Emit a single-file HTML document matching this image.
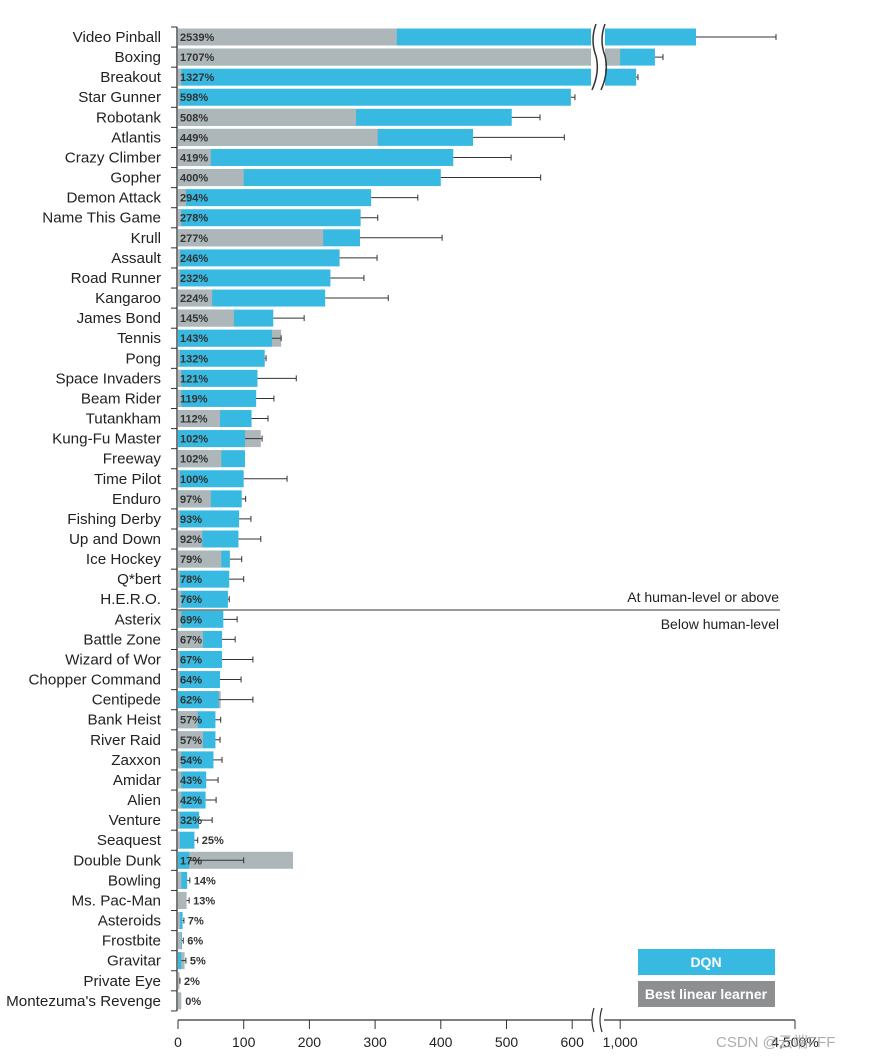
<!DOCTYPE html>
<html><head><meta charset="utf-8"><style>
body{margin:0;background:#fff;width:873px;height:1059px;overflow:hidden}
text{font-family:"Liberation Sans","Noto Sans CJK SC",sans-serif}
</style></head><body>
<svg id="chart" width="873" height="1059" xmlns="http://www.w3.org/2000/svg"></svg>
<script>
const games=["Video Pinball","Boxing","Breakout","Star Gunner","Robotank","Atlantis","Crazy Climber","Gopher","Demon Attack","Name This Game","Krull","Assault","Road Runner","Kangaroo","James Bond","Tennis","Pong","Space Invaders","Beam Rider","Tutankham","Kung-Fu Master","Freeway","Time Pilot","Enduro","Fishing Derby","Up and Down","Ice Hockey","Q*bert","H.E.R.O.","Asterix","Battle Zone","Wizard of Wor","Chopper Command","Centipede","Bank Heist","River Raid","Zaxxon","Amidar","Alien","Venture","Seaquest","Double Dunk","Bowling","Ms. Pac-Man","Asteroids","Frostbite","Gravitar","Private Eye","Montezuma's Revenge"];
const dqn=[2539,1707,1327,598,508,449,419,400,294,278,277,246,232,224,145,143,132,121,119,112,102,102,100,97,93,92,79,78,76,69,67,67,64,62,57,57,54,43,42,32,25,17,14,13,7,6,5,2,0];
const linear=[333,1000,5,2,271,304,50,100,12,5,221,3,3,52,85,157,3,5,5,64,126,66,3,50,3,37,66,3,5,5,38,3,3,65,30,38,5,5,5,3,3,175,5,13,3,5,10,1,5];
const errHigh=[4158,1870,1364,623,551,588,507,552,365,304,402,303,283,320,192,157,134,180,146,137,128,102,166,103,111,126,97,100,78,90,87,114,96,114,65,64,67,61,58,52,30,100,18,17,9,8,12,3,0];
const ticks=[0,100,200,300,400,500,600,1000,4500];
const tickLabels=["0","100","200","300","400","500","600","1,000","4,500%"];
const BLUE="#38b9e1",GRAY="#adb6b8";
const svg=document.getElementById('chart');
const NS="http://www.w3.org/2000/svg";
function mk(t,a,p){const e=document.createElementNS(NS,t);for(const k in a)e.setAttribute(k,a[k]);(p||svg).appendChild(e);return e;}
function x(v){if(v<=600)return 178+v*0.657;if(v<=1000)return 572.2+(v-600)*0.12;return 620+(v-1000)*0.0494;}
function y(i){return 37+i*20.08;}
const H=17;
games.forEach((g,i)=>{
  const cy=y(i);
  const grp=mk('g',{});
  
  
  const lab=mk('text',{x:161,y:cy+5,'text-anchor':'end','font-size':15.2,fill:'#222'},grp);lab.textContent=g;
  
  
  const bars=[[dqn[i],BLUE,'dqn-bar'],[linear[i],GRAY,'linear-bar']].sort((a,b)=>b[0]-a[0]);
  bars.forEach(b=>{const r=mk('rect',{x:178,y:cy-H/2,width:Math.max(x(b[0])-178,b[0]>0?1.5:0),height:H,fill:b[1]},grp);
    
    });
  if(errHigh[i]>dqn[i]){
    const x1=x(dqn[i]),x2=x(errHigh[i]);
    const e=mk('path',{d:`M${x1} ${cy}H${x2}M${x2} ${cy-3}V${cy+3}`,stroke:'#333','stroke-width':1,fill:'none'},grp);
    
    
  }
  const outside=i>=40&&i!==41;
  const tx=outside?Math.max(x(errHigh[i]),x(Math.max(dqn[i],linear[i])))+4:180;
  const t=mk('text',{x:tx,y:cy+4,'font-size':11,'font-weight':'bold',fill:'#333'},grp);t.textContent=dqn[i]+'%';
  
  
});
mk('path',{d:`M177 ${y(0)-10}V${y(48)+10}`,stroke:'#333','stroke-width':1.3});
for(let i=0;i<=49;i++){mk('path',{d:`M171 ${y(i)-10}H177`,stroke:'#333','stroke-width':1});}
mk('rect',{x:591,y:22,width:14,height:70,fill:'#fff'});
mk('path',{d:'M596 24 Q590 40 596 56 Q600 72 592 90',stroke:'#333','stroke-width':1.5,fill:'none'});
mk('path',{d:'M605 24 Q599 40 605 56 Q609 72 601 90',stroke:'#333','stroke-width':1.5,fill:'none'});
mk('path',{d:'M178 610H780',stroke:'#333','stroke-width':1});
let t1=mk('text',{x:779,y:602,'text-anchor':'end','font-size':14,fill:'#222'});t1.textContent='At human-level or above';


let t2=mk('text',{x:779,y:629,'text-anchor':'end','font-size':14,fill:'#222'});t2.textContent='Below human-level';


const ax=mk('path',{d:'M178 1020H592M604 1020H795',stroke:'#333','stroke-width':1.3});


mk('path',{d:'M594 1008 Q590 1020 594 1032M602 1008 Q598 1020 602 1032',stroke:'#333','stroke-width':1.2,fill:'none'});
ticks.forEach((v,k)=>{const px=v>=4500?795:x(v);
  mk('path',{d:`M${px} 1020V1029`,stroke:'#333','stroke-width':1});
  const tl=mk('text',{x:px,y:1047,'text-anchor':'middle','font-size':14,fill:'#222'});
  tl.textContent=tickLabels[k];
  
  });
const lg=mk('g',{});


mk('rect',{x:638,y:949,width:137,height:26,fill:BLUE},lg);
let l1=mk('text',{x:706,y:967,'text-anchor':'middle','font-size':14,fill:'#fff','font-weight':'bold'},lg);l1.textContent='DQN';
mk('rect',{x:638,y:981,width:137,height:26,fill:'#8d8f91'},lg);
let l2=mk('text',{x:706,y:999,'text-anchor':'middle','font-size':14,fill:'#fff','font-weight':'bold'},lg);l2.textContent='Best linear learner';
let wm=mk('text',{x:716,y:1047,'font-size':15,fill:'#999','opacity':0.8});wm.textContent='CSDN @云端FFF';


</script>
</body></html>
